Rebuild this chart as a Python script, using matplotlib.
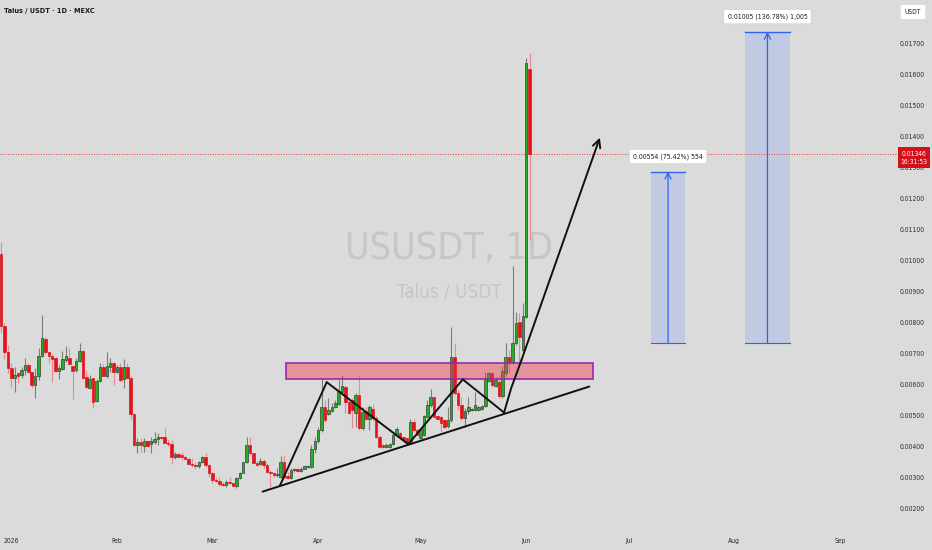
import matplotlib
matplotlib.use('Agg')
import matplotlib.pyplot as plt
from matplotlib.patches import Rectangle
from matplotlib import font_manager
import numpy as np
import pandas as pd

# daily candles, first one on 2025-12-29
first_day = '2025-12-29'
open_ = [0.01023, 0.00790, 0.00706, 0.00655, 0.00623, 0.00639, 0.00632, 0.00648, 0.00665, 0.00642,
         0.00600, 0.00629, 0.00694, 0.00748, 0.00706, 0.00694, 0.00687, 0.00645, 0.00652, 0.00681,
         0.00687, 0.00661, 0.00648, 0.00677, 0.00710, 0.00626, 0.00590, 0.00623, 0.00548, 0.00613,
         0.00658, 0.00629, 0.00658, 0.00671, 0.00642, 0.00658, 0.00619, 0.00658, 0.00623, 0.00506,
         0.00406, 0.00416, 0.00403, 0.00419, 0.00410, 0.00416, 0.00426, 0.00432, 0.00432, 0.00413,
         0.00410, 0.00368, 0.00377, 0.00374, 0.00368, 0.00361, 0.00345, 0.00342, 0.00339, 0.00352,
         0.00368, 0.00342, 0.00316, 0.00294, 0.00290, 0.00281, 0.00277, 0.00287, 0.00284, 0.00274,
         0.00300, 0.00316, 0.00352, 0.00406, 0.00381, 0.00348, 0.00345, 0.00355, 0.00342, 0.00319,
         0.00316, 0.00310, 0.00303, 0.00352, 0.00306, 0.00300, 0.00326, 0.00329, 0.00323, 0.00329,
         0.00335, 0.00335, 0.00394, 0.00419, 0.00455, 0.00529, 0.00506, 0.00516, 0.00529, 0.00539,
         0.00577, 0.00594, 0.00545, 0.00552, 0.00510, 0.00568, 0.00461, 0.00516, 0.00490, 0.00523,
         0.00494, 0.00432, 0.00406, 0.00400, 0.00400, 0.00410, 0.00439, 0.00445, 0.00432, 0.00429,
         0.00413, 0.00481, 0.00455, 0.00429, 0.00439, 0.00497, 0.00535, 0.00561, 0.00500, 0.00497,
         0.00487, 0.00468, 0.00487, 0.00690, 0.00574, 0.00535, 0.00494, 0.00516, 0.00519, 0.00519,
         0.00519, 0.00523, 0.00532, 0.00613, 0.00639, 0.00597, 0.00610, 0.00565, 0.00639, 0.00690,
         0.00674, 0.00735, 0.00803, 0.00713, 0.00819, 0.01619]
high_ = [0.01061, 0.00800, 0.00729, 0.00671, 0.00658, 0.00642, 0.00658, 0.00687, 0.00671, 0.00642,
         0.00655, 0.00719, 0.00826, 0.00755, 0.00706, 0.00700, 0.00690, 0.00665, 0.00710, 0.00726,
         0.00719, 0.00661, 0.00687, 0.00735, 0.00713, 0.00648, 0.00632, 0.00623, 0.00619, 0.00671,
         0.00668, 0.00706, 0.00687, 0.00674, 0.00665, 0.00671, 0.00684, 0.00671, 0.00629, 0.00510,
         0.00429, 0.00429, 0.00429, 0.00423, 0.00432, 0.00448, 0.00445, 0.00435, 0.00461, 0.00426,
         0.00423, 0.00384, 0.00381, 0.00384, 0.00374, 0.00368, 0.00365, 0.00352, 0.00355, 0.00371,
         0.00381, 0.00345, 0.00319, 0.00303, 0.00303, 0.00287, 0.00294, 0.00303, 0.00287, 0.00303,
         0.00319, 0.00352, 0.00432, 0.00432, 0.00381, 0.00355, 0.00365, 0.00361, 0.00348, 0.00326,
         0.00319, 0.00332, 0.00371, 0.00374, 0.00319, 0.00332, 0.00332, 0.00332, 0.00335, 0.00342,
         0.00342, 0.00406, 0.00432, 0.00465, 0.00623, 0.00552, 0.00558, 0.00542, 0.00552, 0.00616,
         0.00632, 0.00600, 0.00552, 0.00558, 0.00574, 0.00632, 0.00529, 0.00529, 0.00535, 0.00539,
         0.00500, 0.00439, 0.00410, 0.00413, 0.00413, 0.00445, 0.00465, 0.00448, 0.00432, 0.00432,
         0.00490, 0.00490, 0.00458, 0.00465, 0.00503, 0.00552, 0.00587, 0.00565, 0.00503, 0.00500,
         0.00490, 0.00529, 0.00787, 0.00735, 0.00584, 0.00561, 0.00526, 0.00561, 0.00526, 0.00577,
         0.00532, 0.00535, 0.00642, 0.00642, 0.00642, 0.00626, 0.00632, 0.00661, 0.00735, 0.00713,
         0.00984, 0.00835, 0.00832, 0.00865, 0.01655, 0.01671]
low_ = [0.00768, 0.00684, 0.00639, 0.00590, 0.00577, 0.00606, 0.00623, 0.00632, 0.00639, 0.00590,
        0.00558, 0.00616, 0.00690, 0.00700, 0.00671, 0.00610, 0.00642, 0.00619, 0.00648, 0.00674,
        0.00665, 0.00555, 0.00642, 0.00674, 0.00619, 0.00590, 0.00587, 0.00526, 0.00545, 0.00610,
        0.00629, 0.00623, 0.00642, 0.00600, 0.00639, 0.00610, 0.00590, 0.00619, 0.00490, 0.00403,
        0.00381, 0.00384, 0.00384, 0.00400, 0.00381, 0.00410, 0.00406, 0.00426, 0.00413, 0.00403,
        0.00345, 0.00361, 0.00368, 0.00358, 0.00361, 0.00342, 0.00335, 0.00329, 0.00332, 0.00348,
        0.00335, 0.00303, 0.00284, 0.00287, 0.00274, 0.00274, 0.00271, 0.00281, 0.00271, 0.00268,
        0.00297, 0.00316, 0.00348, 0.00374, 0.00345, 0.00339, 0.00342, 0.00332, 0.00316, 0.00271,
        0.00303, 0.00303, 0.00300, 0.00297, 0.00297, 0.00297, 0.00319, 0.00319, 0.00319, 0.00329,
        0.00332, 0.00332, 0.00381, 0.00413, 0.00448, 0.00481, 0.00503, 0.00513, 0.00526, 0.00535,
        0.00574, 0.00510, 0.00506, 0.00461, 0.00465, 0.00455, 0.00455, 0.00487, 0.00455, 0.00484,
        0.00429, 0.00397, 0.00397, 0.00397, 0.00397, 0.00406, 0.00432, 0.00429, 0.00419, 0.00413,
        0.00413, 0.00448, 0.00439, 0.00426, 0.00435, 0.00494, 0.00529, 0.00494, 0.00487, 0.00448,
        0.00461, 0.00461, 0.00481, 0.00568, 0.00519, 0.00487, 0.00465, 0.00506, 0.00516, 0.00516,
        0.00516, 0.00519, 0.00529, 0.00610, 0.00594, 0.00594, 0.00558, 0.00558, 0.00629, 0.00639,
        0.00668, 0.00729, 0.00671, 0.00706, 0.00816, 0.01068]
close_ = [0.00790, 0.00706, 0.00655, 0.00623, 0.00632, 0.00629, 0.00648, 0.00665, 0.00642, 0.00600,
          0.00629, 0.00694, 0.00752, 0.00706, 0.00694, 0.00684, 0.00645, 0.00655, 0.00684, 0.00694,
          0.00668, 0.00645, 0.00677, 0.00710, 0.00623, 0.00594, 0.00619, 0.00545, 0.00613, 0.00658,
          0.00629, 0.00661, 0.00671, 0.00642, 0.00658, 0.00616, 0.00658, 0.00623, 0.00506, 0.00406,
          0.00416, 0.00406, 0.00419, 0.00403, 0.00419, 0.00426, 0.00432, 0.00429, 0.00413, 0.00410,
          0.00368, 0.00377, 0.00368, 0.00368, 0.00361, 0.00345, 0.00342, 0.00339, 0.00352, 0.00368,
          0.00342, 0.00316, 0.00294, 0.00290, 0.00281, 0.00277, 0.00287, 0.00284, 0.00274, 0.00300,
          0.00316, 0.00352, 0.00406, 0.00381, 0.00348, 0.00342, 0.00355, 0.00342, 0.00319, 0.00316,
          0.00310, 0.00313, 0.00352, 0.00303, 0.00300, 0.00326, 0.00329, 0.00323, 0.00329, 0.00339,
          0.00339, 0.00394, 0.00419, 0.00455, 0.00529, 0.00487, 0.00519, 0.00529, 0.00542, 0.00581,
          0.00597, 0.00545, 0.00510, 0.00519, 0.00568, 0.00461, 0.00513, 0.00490, 0.00529, 0.00494,
          0.00432, 0.00400, 0.00400, 0.00406, 0.00410, 0.00439, 0.00458, 0.00432, 0.00423, 0.00413,
          0.00481, 0.00455, 0.00439, 0.00458, 0.00500, 0.00535, 0.00561, 0.00497, 0.00490, 0.00477,
          0.00465, 0.00487, 0.00690, 0.00574, 0.00535, 0.00494, 0.00516, 0.00529, 0.00523, 0.00535,
          0.00529, 0.00532, 0.00619, 0.00639, 0.00600, 0.00616, 0.00565, 0.00645, 0.00690, 0.00674,
          0.00735, 0.00800, 0.00755, 0.00823, 0.01639, 0.01346]

price_ticks = [0.002, 0.003, 0.004, 0.005, 0.006, 0.007, 0.008, 0.009,
               0.010, 0.011, 0.012, 0.013, 0.014, 0.015, 0.016, 0.017]
month_labels = ['2026', 'Feb', 'Mar', 'Apr', 'May', 'Jun', 'Jul', 'Aug', 'Sep']
month_starts = ['2026-01-01', '2026-02-01', '2026-03-01', '2026-04-01', '2026-05-01',
                '2026-06-01', '2026-07-01', '2026-08-01', '2026-09-01']
last_price = 0.01346
last_time = '16:31:53'

# drawings, x in days since 2026-01-01
zone_days = [80.6, 170.6]
zone_prices = [0.00619, 0.00671]
trend_days = [73.7, 169.5]
trend_prices = [0.00256, 0.00595]
zigzag_days = [78.8, 92.5, 116.4, 132.4, 144.5]
zigzag_prices = [0.00276, 0.00609, 0.00409, 0.00618, 0.00511]
arrow_days = [144.5, 146.6, 149.6, 172.6]
arrow_prices = [0.00511, 0.00590, 0.00680, 0.01398]
target_base = 0.007346
target_gains = [0.00554, 0.01005]
target_days = [(187.6, 197.6), (215.2, 228.3)]
target_labels = ['0.00554 (75.42%) 554', '0.01005 (136.78%) 1,005']

bg = '#dbdbdb'
green = '#1db41f'
red = '#e0141d'
blue = '#2f62ee'

# a narrow face looks closer to the chart's UI font, if one is installed
def is_narrow(f):
    return ('Narrow' in f.name or 'Condensed' in f.name
            or str(f.stretch) in ('condensed', 'semi-condensed')) and f.style == 'normal'

narrow_regular = None
narrow_bold = None
for f in font_manager.fontManager.ttflist:
    if not is_narrow(f):
        continue
    if f.weight in (400, 'normal', 'regular', 'book') and narrow_regular is None:
        narrow_regular = f.fname
    if f.weight in (700, 'bold') and narrow_bold is None:
        narrow_bold = f.fname


def ui(size, bold=False):
    fname = narrow_bold if (bold and narrow_bold) else narrow_regular
    if fname:
        return dict(fontproperties=font_manager.FontProperties(fname=fname, size=size))
    return dict(family='Liberation Sans', fontsize=size * 0.86,
                weight='bold' if bold else 'normal')


W, H = 932, 550
fig = plt.figure(figsize=(W / 100, H / 100), dpi=100)
fig.patch.set_facecolor(bg)
ax = fig.add_axes([0, 0, 1, 1])
ax.set_facecolor(bg)
ax.axis('off')
ax.set_xlim(-3.314, 270.0)
ax.set_ylim(0.000677, 0.018419)

# watermark
ax.text(449 / W, 1 - 249 / H, 'USUSDT, 1D', transform=ax.transAxes, ha='center', va='center',
        color='#c6c6c6', zorder=0, **ui(27))
ax.text(449 / W, 1 - 293 / H, 'Talus / USDT', transform=ax.transAxes, ha='center', va='center',
        color='#c6c6c6', zorder=0, **ui(13.5))

# candles
dates = pd.date_range(first_day, periods=len(close_), freq='D')
d = np.array((dates - pd.Timestamp('2026-01-01')).days, dtype=float)
o = np.array(open_)
h = np.array(high_)
l = np.array(low_)
c = np.array(close_)
up = c >= o
wick_cols = np.where(up, '#7c7c7c', '#ec8990')
body_cols = np.where(up, green, red)
edge_cols = np.where(up, '#3c3c3c', red)
ax.vlines(d, l, h, colors=wick_cols, lw=0.8, zorder=2)
ax.bar(d, np.maximum(np.abs(c - o), 0.00002), bottom=np.minimum(o, c), width=0.74,
       color=body_cols, edgecolor=edge_cols, linewidth=0.5, zorder=3)

# resistance zone
ax.add_patch(Rectangle((zone_days[0], zone_prices[0]), zone_days[1] - zone_days[0],
                       zone_prices[1] - zone_prices[0], facecolor='#f23645', alpha=0.42,
                       edgecolor='none', zorder=4))
ax.add_patch(Rectangle((zone_days[0], zone_prices[0]), zone_days[1] - zone_days[0],
                       zone_prices[1] - zone_prices[0], facecolor='none',
                       edgecolor='#9c27b0', lw=1.2, zorder=4))

# pattern lines
ax.plot(trend_days, trend_prices, color='#111111', lw=1.4, zorder=5, solid_capstyle='round')
ax.plot(zigzag_days, zigzag_prices, color='#111111', lw=1.4, zorder=5, solid_joinstyle='miter')
ax.plot(arrow_days[:-1], arrow_prices[:-1], color='#111111', lw=1.4, zorder=5)
ax.annotate('', xy=(arrow_days[-1], arrow_prices[-1]), xytext=(arrow_days[-2], arrow_prices[-2]),
            arrowprops=dict(arrowstyle='->', color='#111111', lw=1.4, mutation_scale=14,
                            shrinkA=0, shrinkB=0), zorder=5)

# target projections
label_gap = 0.000484
for (xa, xb), gain, lbl in zip(target_days, target_gains, target_labels):
    top = target_base + gain
    xm = (xa + xb) / 2
    ax.add_patch(Rectangle((xa, target_base), xb - xa, gain, facecolor='#c2cae3',
                           edgecolor='none', zorder=1))
    ax.plot([xa, xb], [top, top], color=blue, lw=1.0, zorder=2)
    ax.plot([xa, xb], [target_base, target_base], color=blue, lw=0.8, zorder=2)
    ax.annotate('', xy=(xm, top), xytext=(xm, target_base),
                arrowprops=dict(arrowstyle='->', color=blue, lw=0.9, mutation_scale=11,
                                shrinkA=0, shrinkB=0), zorder=2)
    ax.text(xm, top + label_gap, lbl, ha='center', va='center', color='#1e1e1e', zorder=6,
            bbox=dict(boxstyle='round,pad=0.55,rounding_size=0.25', fc='white', ec='#cfcfcf', lw=0.4),
            **ui(5.0))

# last price line
ax.axhline(last_price, xmin=0, xmax=898 / W, color='#e53935', lw=0.7, ls=(0, (1, 1.6)), zorder=1)

# price scale
for p in price_ticks:
    ax.text(912 / W, p, f'{p:.5f}', transform=ax.get_yaxis_transform(), ha='center', va='center',
            color='#2b2b2b', zorder=6, **ui(4.9))
ax.add_patch(Rectangle((898 / W, 1 - 168 / H), 32 / W, 21 / H, transform=ax.transAxes,
                       facecolor='#d3111a', edgecolor='none', zorder=7))
ax.text(914 / W, 1 - 153.5 / H, f'{last_price:.5f}', transform=ax.transAxes, ha='center',
        va='center', color='white', zorder=8, **ui(4.9))
ax.text(914 / W, 1 - 162.5 / H, last_time, transform=ax.transAxes, ha='center',
        va='center', color='white', zorder=8, **ui(4.9))
ax.text(913 / W, 1 - 12 / H, 'USDT', transform=ax.transAxes, ha='center', va='center',
        color='#2b2b2b', zorder=8,
        bbox=dict(boxstyle='round,pad=0.6,rounding_size=0.2', fc='white', ec='none'), **ui(4.9))

# time scale
for lbl, ms in zip(month_labels, month_starts):
    xd = (pd.Timestamp(ms) - pd.Timestamp('2026-01-01')).days
    ax.text(xd, 1 - 541 / H, lbl, transform=ax.get_xaxis_transform(), ha='center', va='center',
            color='#2b2b2b', **ui(4.9))

# header
ax.text(4 / W, 1 - 11 / H, 'Talus / USDT \u00b7 1D \u00b7 MEXC', transform=ax.transAxes,
        ha='left', va='center', color='#1a1a1a', **ui(5.2, bold=True))

fig.savefig('out.png', dpi=100, facecolor=bg)
